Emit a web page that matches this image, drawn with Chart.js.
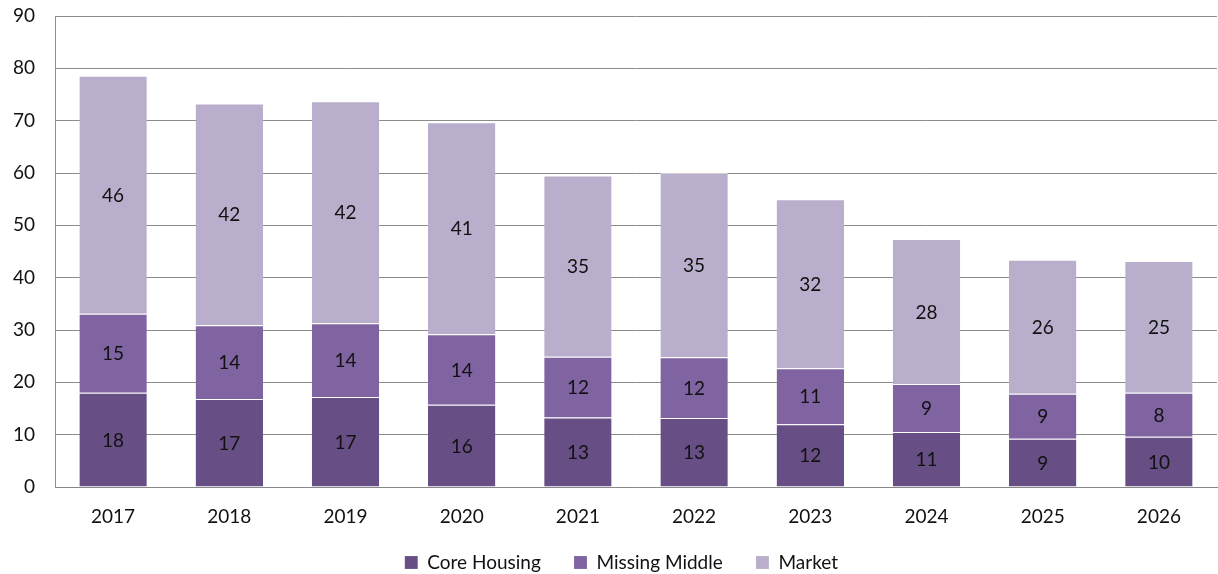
<!DOCTYPE html>
<html>
<head>
<meta charset="utf-8">
<script src="https://cdn.jsdelivr.net/npm/chart.js@4"></script>
<style>
  html, body { margin: 0; padding: 0; background: #fff; }
  #wrap { width: 1218px; height: 574px; }
</style>
</head>
<body>
<div id="wrap"><canvas id="chart"></canvas></div>
<script>
const years = ['2017', '2018', '2019', '2020', '2021', '2022', '2023', '2024', '2025', '2026'];
const coreHousing = [18.0, 16.8, 17.2, 15.7, 13.3, 13.2, 12.0, 10.5, 9.2, 9.6];
const missingMiddle = [15.1, 14.1, 14.1, 13.5, 11.6, 11.6, 10.7, 9.2, 8.6, 8.4];
const market = [45.5, 42.4, 42.4, 40.5, 34.6, 35.2, 32.3, 27.7, 25.6, 25.2];

const fontFamily = "Lato, 'Open Sans', sans-serif";

// draws the rounded value in the middle of each segment
const segmentLabels = {
    id: 'segmentLabels',
    afterDatasetsDraw(chart) {
        const ctx = chart.ctx;
        ctx.save();
        ctx.font = '19px ' + fontFamily;
        ctx.fillStyle = '#111';
        ctx.textAlign = 'center';
        ctx.textBaseline = 'middle';
        chart.data.datasets.forEach((ds, di) => {
            chart.getDatasetMeta(di).data.forEach((bar, i) => {
                const mid = (bar.y + bar.base) / 2;
                ctx.fillText(Math.round(ds.data[i]), bar.x, mid + 1);
            });
        });
        ctx.restore();
    }
};

new Chart(document.getElementById('chart').getContext('2d'), {
    type: 'bar',
    data: {
        labels: years,
        datasets: [
            { label: 'Core Housing', data: coreHousing, backgroundColor: '#674f86' },
            { label: 'Missing Middle', data: missingMiddle, backgroundColor: '#8064a2' },
            { label: 'Market', data: market, backgroundColor: '#b9aecb' }
        ]
    },
    options: {
        responsive: true,
        maintainAspectRatio: false,
        animation: false,
        layout: { padding: { top: 16, right: 1, left: 0, bottom: -8 } },
        datasets: {
            bar: {
                categoryPercentage: 0.58,
                barPercentage: 1,
                borderWidth: { top: 1 },
                borderColor: 'rgba(255,255,255,0.6)',
                borderSkipped: 'bottom'
            }
        },
        plugins: {
            legend: {
                position: 'bottom',
                fullSize: false,
                labels: {
                    font: { family: fontFamily, size: 19 },
                    color: '#111',
                    boxWidth: 13,
                    boxHeight: 13,
                    padding: 4,
                    generateLabels(chart) {
                        const items = Chart.defaults.plugins.legend.labels.generateLabels(chart);
                        // wider gaps between entries, like the original legend
                        items.forEach((it) => { it.text += '      '; });
                        return items;
                    }
                }
            },
            tooltip: { enabled: false }
        },
        scales: {
            x: {
                stacked: true,
                grid: { display: false, drawTicks: false },
                border: { color: '#888' },
                ticks: { font: { family: fontFamily, size: 19 }, color: '#111', padding: 18 },
                afterFit(scale) { scale.height = 62; }
            },
            y: {
                stacked: true,
                min: 0,
                max: 90,
                grid: { color: '#8c8c8c', drawTicks: false },
                border: { color: '#8c8c8c' },
                ticks: { stepSize: 10, font: { family: fontFamily, size: 19 }, color: '#111', padding: 20 },
                afterFit(scale) { scale.width = 55; scale.paddingTop = 0; scale.paddingBottom = 0; }
            }
        }
    },
    plugins: [segmentLabels]
});
</script>
</body>
</html>
